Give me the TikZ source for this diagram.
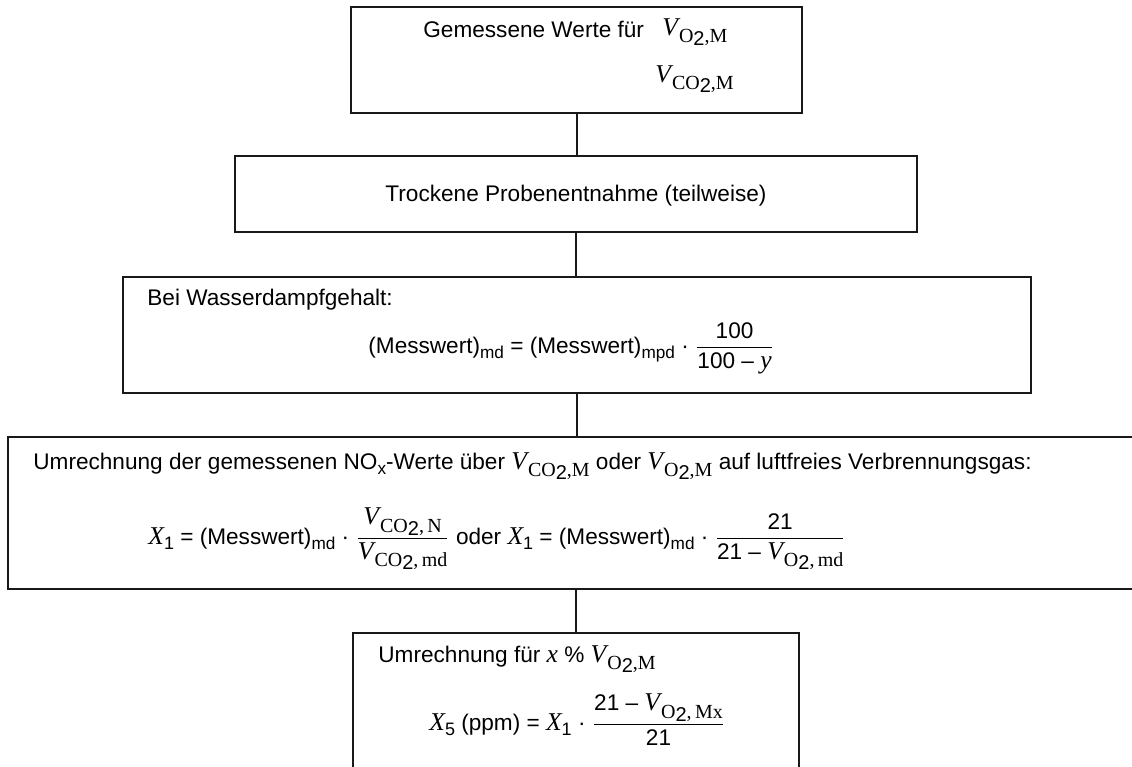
\documentclass[tikz,border=0pt]{standalone}
\usepackage{fontspec}
\setmainfont{Liberation Sans}
\newfontfamily\tms{Liberation Serif}
\usetikzlibrary{positioning,calc}
\tikzset{
	flowbox/.style={
		rectangle,
		draw=black!90,
		line width=1pt,
		inner sep=0pt,
	},
	txt/.style={
		inner sep=0pt,
		anchor=base west,
		font=\fontsize{11.3}{13.5}\selectfont,
	},
	link/.style={
		draw=black!90,
		line width=1pt,
	},
}
\newcommand{\Vg}[2]{{\fontsize{12.8}{14}\selectfont\tms\itshape V}\kern0.5pt\raisebox{-0.6ex}{\fontsize{10}{11}\selectfont{\tms #1}\raisebox{-0.35ex}{2}{\tms ,#2}}}
\newcommand{\Xg}[1]{{\fontsize{12.8}{14}\selectfont\tms\itshape X}\raisebox{-0.5ex}{\fontsize{9}{10}\selectfont #1}}
\newcommand{\msub}[1]{\raisebox{-0.5ex}{\fontsize{8.6}{9}\selectfont #1}}
\newcommand{\bruch}[2]{$\displaystyle\frac{\mbox{#1}}{\mbox{#2}}$}

\begin{document}
\begin{tikzpicture}[x=0.5pt,y=-0.5pt]
	\useasboundingbox (0,0) rectangle (1132,767);
	
	% boxes
	\node [flowbox, minimum width=225.5pt, minimum height=53pt] (mess) at (576.5,60) {};
	\node [flowbox, minimum width=341pt, minimum height=38pt] (trocken) at (576,194) {};
	\node [flowbox, minimum width=454pt, minimum height=58pt] (dampf) at (577,335) {};
	\node [flowbox, minimum width=568pt, minimum height=76pt] (luftfrei) at (576,513) {};
	\node [flowbox, minimum width=223pt, minimum height=78.5pt] (ppm) at (576,711.5) {};
	
	\draw[link] (mess.south) -- (mess.south |- trocken.north);
	\draw[link] (trocken.south) -- (trocken.south |- dampf.north);
	\draw[link] (dampf.south) -- (dampf.south |- luftfrei.north);
	\draw[link] (luftfrei.south) -- (luftfrei.south |- ppm.north);
	
	% texts
	\node [txt] (mess-t) at (423,37) {Gemessene Werte für};
	\node [txt] (mess-o2) at (662,35) {\Vg{O}{M}};
	\node [txt] (mess-co2) at (655,82) {\Vg{CO}{M}};
	
	\node [txt, anchor=base] (trocken-t) at (576,201) {Trockene Probenentnahme (teilweise)};
	
	\node [txt] (dampf-t) at (147,305) {Bei Wasserdampfgehalt:};
	\node [txt] (dampf-f) at (368,353) {(Messwert)\msub{md} = (Messwert)\msub{mpd} · \bruch{100}{100 \textendash{} {\fontsize{12.8}{14}\selectfont\tms\itshape y}}};
	
	\node [txt] (luftfrei-t) at (33,469) {Umrechnung der gemessenen NO\msub{x}-Werte über \Vg{CO}{M} oder \Vg{O}{M} auf luftfreies Verbrennungsgas:};
	\node [txt] (luftfrei-f) at (148,544) {\Xg{1} = (Messwert)\msub{md} · \bruch{\Vg{CO}{\,N}}{\Vg{CO}{\,md}} oder \Xg{1} = (Messwert)\msub{md} · \bruch{21}{21 \textendash{} \Vg{O}{\,md}}};
	
	\node [txt] (ppm-t) at (378,662) {Umrechnung für {\fontsize{12.8}{14}\selectfont\tms\itshape x} \% \Vg{O}{M}};
	\node [txt] (ppm-f) at (429,730) {\Xg{5} (ppm) = \Xg{1} · \bruch{21 \textendash{} \Vg{O}{\,Mx}}{21}};
\end{tikzpicture}
\end{document}
